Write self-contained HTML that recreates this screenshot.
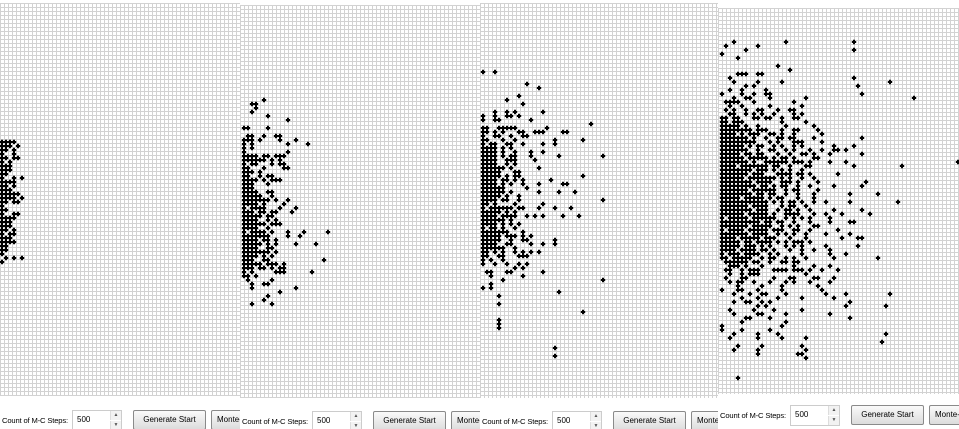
<!DOCTYPE html>
<html><head><meta charset="utf-8">
<style>
body{margin:0;width:959px;height:429px;overflow:hidden;background:#fff;font-family:"Liberation Sans",sans-serif;position:relative}
.panel{position:absolute;overflow:hidden;background:#fff}
.grid{position:absolute;left:0;top:0;
 background-color:#fff;
 background-image:linear-gradient(to right,#d2d2d2 1px,transparent 1px),linear-gradient(to bottom,#d2d2d2 1px,transparent 1px);
 background-size:4px 4px}
.ctrl{position:absolute;left:0;height:22px;width:260px}
.lbl{position:absolute;left:2px;top:6px;font-size:7.6px;letter-spacing:-0.15px;color:#000;white-space:nowrap}
.spin{position:absolute;left:72px;top:0;width:48px;height:19px;border:1px solid #ccc;background:#fff;font-size:8px}
.spin span{position:absolute;left:4px;top:4px}
.spin .ar{position:absolute;right:0;width:10px;height:9px;border-left:1px solid #ddd;background:#f2f2f2;font-size:5px;color:#555;text-align:center;line-height:9px}
.btn{position:absolute;top:0;height:18px;border:1px solid #8a8a8a;border-radius:2px;background:linear-gradient(#fafafa,#dcdcdc);font-size:8px;text-align:center;line-height:18px;white-space:nowrap}
svg{position:absolute;left:0;top:0}
</style></head><body>
<div id="root"></div>
<script>
const panels=[
 {x:0,y:3,w:240,h:393,cy:410,dx:0,dy:140},
 {x:240,y:5,w:240,h:393,cy:411,dx:2,dy:98},
 {x:480,y:3,w:238,h:395,cy:411,dx:1,dy:70},
 {x:718,y:8,w:241,h:386,cy:405,dx:2,dy:40}
];
const p1Rows=["####.","###.#","##.#","#..#","##.##","#.#","###","###.","##","#..#.#","####","##.#","###","#####","####.#","##.##","#","##","#..##","####","###","###","##.#","#.##","###","####","##","##","#...",".#.#.#","#"];
const p2Rows=[".....#","..##","...#","..#","......#","...........#","","##....#","",".##..#..##","###.#....#...#","#.#........#....#","#.#","#..........#","####.##.###","######.#.#","#.##...#.##","##...#....##","###.#","##..#.##","####.#.###","###...#","###","####..##","#####..#","#######.#..#","####.#....#","#.####...#...#","###.##.##...#","#####.##","####..#.#","######.###","####..#","#.####.#...#...#.....#","#######....#..#","####.##.#","#####.#.#....#....#","####..##.","#######.#","####.#.#","###..##.............#","#####.###.#","###.##.#.##","#.#.....###......#","##.#...",".#.....#","..#..##","..#..........#",".........#","......#",".....#","..#....#"];
const p3Rows=["#..#","","","...........#","..............#","",".........#","......#","..........#","","...#..#.#......#","#..#..##.#","#..##.......#","...........................#","##..#####.......#","##.#.#...##..###....##","#..##..#..##","##...#..#.........#......#","#.##..##..#....#..#","####.#.#","####.#..#...#..#","####.#.##...#......#..........#","####..###....#","####..#.#","######.#......#","#####...##","#####.#.##...............#","####.##.#.#......#","####.#.#..#...#.....##","######.....#","######.#......#....#...#","#####.#..#","####.##..#....................#","##.#....#......#","#.######.##...#...#...#","#####.#.#","####.####..#.#.#....#...#","######.#","####.#.#.#","#.##.#..#","#######...#","#####.###.#.#","#####..#..##......#","####..##....#..#..#","######..#","##.#.#..#.#.#.#","##..##...###","#.#..#","#..#..#..#.#","........#.#",".##...##.......#","..#.......#",".....#........................#","..#.....","#.#","...................#","....#","..","....#","",".........................#","","....#","....#","....#","","","","","..................#","","..................#"];
const p4Rows=["...#............#................#",".#.......#","......#..........................#","#","....#","","..............#",".................#","....###..##","..#..............................#","...#.....#.....#..........................#","......#.#.........................#","..#..#.....#","#....#..#..##......................#","...#..##....#........#..........................#",".####...#.........#","..#..#......#.......#",".#.#..#..##...#..##","..##..#.#.#..#....#.#","##.##...##.##..#..##","##.###.........#.....#","#####.#..#......#......#","########.###...#..##....#","####.#.###..##.#..#......#","#######.#..#..##.##....#...........#","#########...#.#...###....#","######.#.##..#.#..#.#.......#....#","#######..#..##..#.#...#..#..##.#","#####.##.##...#..#..##.#...#.......#","######.#####.#.##.#....##","#######.#..######.###.#....#...#...........................#","####.#######.##..#...##..........#...........#","########.###.#.#.#..#","#######.###...####.##.#......#","######.#######.#.#..#..#","########.####..###.#....#...........#","#########.##.#.##..#..#.....#......#","#######.######..#.##....#","########.##.##..#..#...#........#......#","#####.#####.#.##...#...#","############.#.#.##.#..#..#.....#...........#","#######.####...#.##..#","########.###..#.##.#..#.....#......#","######.#####.#..####...#..#...#......#","#.#####.######..#.#.#.#....#","##########.##.##..#...#....#....##","#######.#####..#.#.#...##","#.####.#####.###..##..#......#","#######.####..#.#.#..#....#.....#","####.#####.###...#...#........#...##","#####.##.####.#.#.###.#","#####.###.#.#...#.#.#.....#.......#","####.####.##.#...#..#..#...#","#.###.####..#.#.....#......#...#","##.#####..#.##..#.#..#......#..........#",".######.##..#..##.##","..###.#...#.......#....#...#",".##..#.###...####.###.#..#...#","..#..#.###...........#",".#...##......#...##....##...#","..#.##..#...#...#.#...#....#","....#.....#....#........#","#...##...#.....#.........#","...#...#..##....#.........#....#..........#",".....#...#....#.....#.......#","...#..##..#.#...................#",".........#.#...................#.........#","..#.....#....#......#","...#.....##.....#..........#","......##....#...................#",".....#..........#","#..............#","#....#......#","...#.....#....#..........................#","..#......#.....#.....#","........................................#","....#.....#.........#","...#.....#...........#",".........#.........##",".....................#","","","","","....#"];
const allRows=[p1Rows,p2Rows,p3Rows,p4Rows];
const CELL=4;
function colToX(p,c){return p.dx+c*CELL+2;}
function rowToY(p,r){return (p.dy-p.y)+r*CELL+2;}
const root=document.getElementById('root');
const NS='http://www.w3.org/2000/svg';
panels.forEach((p,i)=>{
  const d=document.createElement('div');
  d.className='panel';
  
  
  d.style.left=p.x+'px';d.style.top=p.y+'px';d.style.width=p.w+'px';d.style.height=(429-p.y)+'px';
  const g=document.createElement('div');
  g.className='grid';
  
  
  g.style.width=p.w+'px';g.style.height=p.h+'px';
  d.appendChild(g);
  const svg=document.createElementNS(NS,'svg');
  svg.setAttribute('width',p.w);svg.setAttribute('height',p.h);
  
  
  allRows[i].forEach((row,r)=>{
    for(let c=0;c<row.length;c++){
      if(row[c]!=='#')continue;
      const e=document.createElementNS(NS,'path');
      const x=colToX(p,c),y=rowToY(p,r);
      e.setAttribute('d',`M${x-1} ${y-2.2}h2v1.2h1.2v2h-1.2v1.2h-2v-1.2h-1.2v-2h1.2z`);
      e.setAttribute('fill','#000');
      
      
      svg.appendChild(e);
    }
  });
  d.appendChild(svg);
  const c=document.createElement('div');
  c.className='ctrl';
  c.style.top=(p.cy-p.y)+'px';
  c.innerHTML='<div class="lbl">Count of M-C Steps:</div>'+
   '<div class="spin"><span>500</span><div class="ar" style="top:0">▲</div><div class="ar" style="top:10px">▼</div></div>'+
   '<div class="btn" style="left:133px;width:71px">Generate Start</div>'+
   '<div class="btn" style="left:211px;width:60px;text-align:left;padding-left:5px">Monte-Carlo</div>';
  d.appendChild(c);
  root.appendChild(d);
});
</script>
</body></html>
